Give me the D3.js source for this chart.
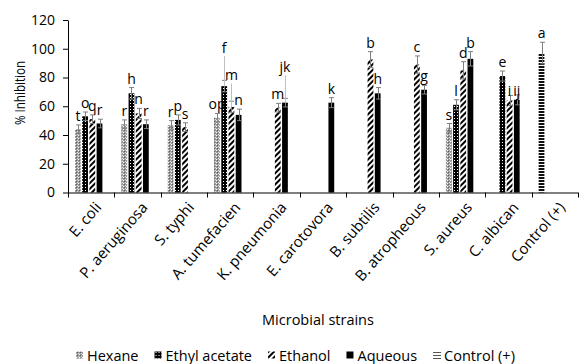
<!DOCTYPE html>
<html>
<head>
<meta charset="utf-8">
<script src="https://cdn.jsdelivr.net/npm/d3@7/dist/d3.min.js"></script>
<style>
  body { margin: 0; background: #fff; }
  svg { display: block; font-family: "Open Sans", sans-serif; }
</style>
</head>
<body>
<div id="chart"></div>
<script>
const w = 581;
const h = 364;

// categories on the x axis
const categories = ["E. coli", "P. aeruginosa", "S. typhi", "A. tumefacien", "K. pneumonia",
  "E. carotovora", "B. subtilis", "B. atropheous", "S. aureus", "C. albican", "Control (+)"];
const seriesNames = ["Hexane", "Ethyl acetate", "Ethanol", "Aqueous", "Control (+)"];
const yTicks = [0, 20, 40, 60, 80, 100, 120];

// % inhibition, error and significance letter per series (null = not tested)
const hexane        = [44, 47.5, 47, 52, null, null, null, null, 45, null, null];
const hexaneErr     = [3, 3, 3, 3, null, null, null, null, 3, null, null];
const hexaneLbl     = ["t", "r", "r", "op", null, null, null, null, "s", null, null];

const ethylAcetate    = [53, 69, 50.5, 74, null, null, null, null, 61, 81, null];
const ethylAcetateErr = [3, 4, 3.5, 4, null, null, null, null, 3.5, 3.5, null];
const ethylAcetateLbl = ["o", "h", "p", "f", null, null, null, null, "l", "e", null];

const ethanol    = [51, 55, 45.5, 59.5, 59, null, 92.5, 89, 85, 64, null];
const ethanolErr = [3, 3.5, 3, 4, 3, null, 5.5, 6, 6, 3.5, null];
const ethanolLbl = ["q", "n", "s", "m", "m", null, "b", "c", "d", "i", null];

const aqueous    = [48, 47.5, null, 54, 62.5, 62.5, 69, 71.5, 93, 64.5, null];
const aqueousErr = [3, 3, null, 4, 3, 3.5, 4, 3, 5, 3.5, null];
const aqueousLbl = ["r", "r", null, "n", "jk", "k", "h", "g", "b", "ij", null];

const control    = [null, null, null, null, null, null, null, null, null, null, 97];
const controlErr = [null, null, null, null, null, null, null, null, null, null, 7.5];
const controlLbl = [null, null, null, null, null, null, null, null, null, null, "a"];

// letters that were dragged away from their bar (value where the label sits)
const movedLabels = {
  "A. tumefacien|Ethyl acetate": 97,
  "A. tumefacien|Ethanol": 78,
  "K. pneumonia|Aqueous": 83.5,
  "C. albican|Ethanol": 67,
  "C. albican|Aqueous": 67
};

const series = [
  { name: "Hexane", values: hexane, err: hexaneErr, lbl: hexaneLbl },
  { name: "Ethyl acetate", values: ethylAcetate, err: ethylAcetateErr, lbl: ethylAcetateLbl },
  { name: "Ethanol", values: ethanol, err: ethanolErr, lbl: ethanolLbl },
  { name: "Aqueous", values: aqueous, err: aqueousErr, lbl: aqueousLbl },
  { name: "Control (+)", values: control, err: controlErr, lbl: controlLbl }
];

const fills = {
  "Hexane": "url(#p-hex)",
  "Ethyl acetate": "url(#p-ea)",
  "Ethanol": "url(#p-eth)",
  "Aqueous": "#000",
  "Control (+)": "url(#p-ctl)"
};

let svg = d3.select("div#chart").append("svg")
  .attr("width", w).attr("height", h)
  .attr("viewBox", "0 0 " + w + " " + h)
  .style("background-color", "#ffffff");

// fill patterns
const defs = svg.append("defs");
let p = defs.append("pattern").attr("id", "p-hex").attr("patternUnits", "userSpaceOnUse")
  .attr("width", 3).attr("height", 3);
p.append("rect").attr("width", 3).attr("height", 3).attr("fill", "#9a9a9a");
p.append("rect").attr("width", 1).attr("height", 1).attr("fill", "#fff");
p.append("rect").attr("x", 1).attr("y", 1).attr("width", 1).attr("height", 1).attr("fill", "#5e5e5e");
p.append("rect").attr("x", 2).attr("y", 2).attr("width", 1).attr("height", 1).attr("fill", "#dcdcdc");

p = defs.append("pattern").attr("id", "p-ea").attr("patternUnits", "userSpaceOnUse")
  .attr("width", 3).attr("height", 3);
p.append("rect").attr("width", 3).attr("height", 3).attr("fill", "#000");
p.append("rect").attr("x", 1).attr("y", 1).attr("width", 1).attr("height", 1).attr("fill", "#fff");

p = defs.append("pattern").attr("id", "p-eth").attr("patternUnits", "userSpaceOnUse")
  .attr("width", 4).attr("height", 4).attr("patternTransform", "rotate(45)");
p.append("rect").attr("width", 4).attr("height", 4).attr("fill", "#fff");
p.append("rect").attr("width", 2).attr("height", 4).attr("fill", "#000");

p = defs.append("pattern").attr("id", "p-ctl").attr("patternUnits", "userSpaceOnUse")
  .attr("width", 4).attr("height", 3);
p.append("rect").attr("width", 4).attr("height", 3).attr("fill", "#fff");
p.append("rect").attr("width", 4).attr("height", 2).attr("fill", "#111");

// scales
const x0 = d3.scaleBand().domain(categories).range([68, 578]);
const x1 = d3.scaleBand().domain(seriesNames).range([7, 41.6]).paddingInner(0.2);
const y = d3.scaleLinear().domain([0, 120]).range([192.5, 20]);
// the positive control sits in the first slot of its category
const slot = s => s === "Control (+)" ? "Hexane" : s;

const bars = series.flatMap(s => categories.map((c, i) => ({
  cat: c, s: s.name, v: s.values[i], e: s.err[i], lbl: s.lbl[i]
}))).filter(d => d.v != null);

const bx = d => x0(d.cat) + x1(slot(d.s));
const cx = d => bx(d) + x1.bandwidth() / 2;

// axes
svg.append("g")
  .attr("transform", "translate(68,0)")
  .call(d3.axisLeft(y).tickValues(yTicks).tickSize(5).tickPadding(8).tickSizeOuter(0))
  .call(g => g.selectAll("path, line").attr("stroke", "#000"))
  .call(g => g.selectAll("text").attr("font-size", 14).attr("fill", "#000")
    .attr("font-family", "Open Sans"));

svg.selectAll("rect.bar")
  .data(bars)
  .join("rect")
  .attr("class", "bar")
  .attr("x", bx)
  .attr("width", x1.bandwidth())
  .attr("y", d => y(d.v))
  .attr("height", d => y(0) - y(d.v))
  .attr("fill", d => fills[d.s]);

// error bars
const eb = svg.append("g").attr("stroke", "#7f7f7f").attr("stroke-width", 1).attr("fill", "none");
eb.selectAll("path")
  .data(bars)
  .join("path")
  .attr("d", d => {
    const c = Math.round(cx(d)) + 0.5, t = y(d.v + d.e), b = y(d.v - d.e);
    return `M${c},${t}V${b}M${c - 2.5},${t}H${c + 2.5}M${c - 2.5},${b}H${c + 2.5}`;
  });

// leader lines for moved letters
const leaders = bars.filter(d => movedLabels[d.cat + "|" + d.s] > d.v + d.e);
svg.selectAll("line.leader")
  .data(leaders)
  .join("line")
  .attr("class", "leader")
  .attr("x1", d => Math.round(cx(d)) + 0.5).attr("x2", d => Math.round(cx(d)) + 0.5)
  .attr("y1", d => y(movedLabels[d.cat + "|" + d.s]) + 3)
  .attr("y2", d => y(d.v))
  .attr("stroke", "#bfbfbf").attr("stroke-width", 1);

// significance letters
svg.selectAll("text.lbl")
  .data(bars.filter(d => d.lbl))
  .join("text")
  .attr("class", "lbl")
  .attr("x", cx)
  .attr("y", d => {
    const m = movedLabels[d.cat + "|" + d.s];
    return m != null ? y(m) : y(d.v + d.e) - 4;
  })
  .attr("text-anchor", "middle")
  .attr("font-size", 14)
  .attr("fill", "#000")
  .text(d => d.lbl);

// x axis
const xa = svg.append("g");
xa.append("line").attr("x1", x0.range()[0]).attr("x2", x0.range()[1])
  .attr("y1", y(0) + 0.5).attr("y2", y(0) + 0.5).attr("stroke", "#000");
xa.selectAll("line.tick")
  .data(categories.map(c => x0(c)).concat([x0.range()[1]]))
  .join("line")
  .attr("class", "tick")
  .attr("x1", d => Math.round(d) + 0.5).attr("x2", d => Math.round(d) + 0.5)
  .attr("y1", y(0)).attr("y2", y(0) + 5)
  .attr("stroke", "#000");
xa.selectAll("text")
  .data(categories)
  .join("text")
  .attr("transform", c => `translate(${x0(c) + x0.bandwidth() / 2 + 7},${y(0) + 12}) rotate(-49)`)
  .attr("text-anchor", "end")
  .attr("dy", "0.35em")
  .attr("font-size", 15)
  .attr("fill", "#000")
  .text(c => c);

// axis titles
svg.append("text")
  .attr("transform", "translate(25,93) rotate(-90) scale(0.8,1)")
  .attr("text-anchor", "middle")
  .attr("font-size", 14.5)
  .attr("fill", "#000")
  .text("% Inhibition");

svg.append("text")
  .attr("x", 318).attr("y", 325)
  .attr("text-anchor", "middle")
  .attr("font-size", 14.5)
  .attr("fill", "#000")
  .text("Microbial strains");

// legend
const lg = svg.append("g").attr("transform", "translate(76,0)");
let lx = 0;
seriesNames.forEach(name => {
  const it = lg.append("g").attr("transform", `translate(${lx},0)`);
  if (name === "Control (+)") {
    it.append("path").attr("d", "M0,352.5H8M0,355.5H8M0,358.5H8").attr("stroke", "#555");
  } else {
    it.append("rect").attr("x", 0).attr("y", 351.5).attr("width", 7).attr("height", 7)
      .attr("fill", fills[name]);
  }
  const t = it.append("text").attr("x", 11).attr("y", 360.5)
    .attr("font-size", 14.5).attr("fill", "#000").text(name);
  lx += 11 + t.node().getComputedTextLength() + 16;
});
</script>
</body>
</html>
